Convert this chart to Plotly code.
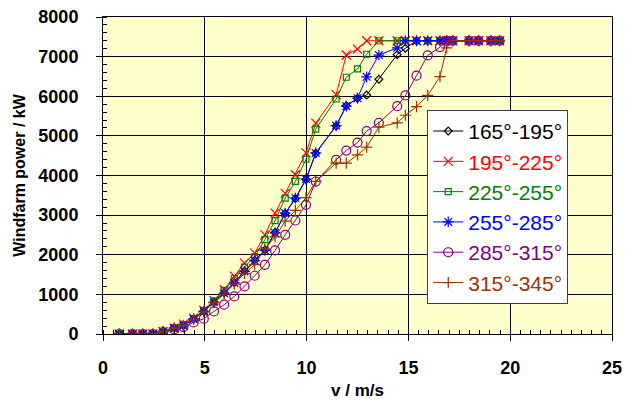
import plotly.graph_objects as go

# Wind speed bins (m/s)
v_bins = [0.8, 1.45, 1.95, 2.45, 2.95, 3.5, 3.95, 4.45, 4.95, 5.45, 5.95, 6.45,
          6.95, 7.45, 7.95, 8.45, 8.95, 9.45, 9.97, 10.45, 11.45, 11.95, 12.5, 12.95,
          13.55, 14.45, 14.85, 15.4, 15.95, 16.55, 16.88, 17.18, 17.98, 18.45, 19.05, 19.48]

# Windfarm power (kW) per wind-direction sector
p_165_195 = [0, 0, 0, 0, 60, 150, 215, 385, 575, 800, 1040, 1300,
             1590, 1860, 2120, 2560, 3040, 3420, 3900, 4560, 5250, 5760, 5950, 6030,
             6430, 7050, 7210, 7400, 7400, 7400, 7400, 7400, 7400, 7400, 7400, 7400]
p_195_225 = [0, 0, 0, 0, 60, 150, 250, 400, 600, 850, 1120, 1460,
             1790, 2040, 2500, 3050, 3550, 4020, 4570, 5320, 6040, 7040, 7190, 7400,
             7400, 7400, 7400, 7400, 7400, 7400, 7400, 7400, 7400, 7400, 7400, 7400]
p_225_255 = [0, 0, 0, 0, 60, 150, 240, 390, 590, 830, 1100, 1400,
             1690, 1950, 2380, 2860, 3430, 3850, 4410, 5170, 5930, 6480, 6690, 7060,
             7400, 7400, 7400, 7400, 7400, 7400, 7400, 7400, 7400, 7400, 7400, 7400]
p_255_285 = [0, 0, 0, 0, 60, 150, 210, 380, 570, 800, 1030, 1290,
             1580, 1850, 2110, 2550, 3050, 3430, 3910, 4570, 5260, 5750, 5950, 6490,
             7040, 7220, 7400, 7400, 7400, 7400, 7400, 7400, 7400, 7400, 7400, 7400]
p_285_315 = [0, 0, 0, 0, 50, 120, 176, 292, 386, 570, 739, 948,
             1200, 1470, 1747, 2108, 2504, 2864, 3260, 3848, 4395, 4630, 4831, 5120,
             5330, 5750, 6020, 6520, 7030, 7240, 7400, 7400, 7400, 7400, 7400, 7400]
p_315_345 = [0, 0, 0, 0, 60, 150, 220, 370, 560, 790, 1010, 1260,
             1530, 1750, 2150, 2450, 2850, 3120, 3440, 3850, 4311, 4311, 4520, 4715,
             5220, 5330, 5520, 5740, 6020, 6495, 7220, 7400, 7400, 7400, 7400, 7400]

sector_labels = ["165°-195°", "195°-225°", "225°-255°", "255°-285°", "285°-315°", "315°-345°"]
series = [p_165_195, p_195_225, p_225_255, p_255_285, p_285_315, p_315_345]

styles = [
    dict(color="#000000", symbol="diamond-open", size=6),
    dict(color="#FF0000", symbol="x-thin-open", size=9),
    dict(color="#008000", symbol="square-open", size=6),
    dict(color="#0000FF", symbol="asterisk-open", size=9),
    dict(color="#800080", symbol="circle-open", size=9),
    dict(color="#993300", symbol="cross-thin-open", size=8),
]

FONT = "Liberation Sans, Arial, sans-serif"

fig = go.Figure()
for lab, p, st in zip(sector_labels, series, styles):
    fig.add_trace(go.Scatter(
        x=v_bins, y=p, mode="lines+markers",
        name=f"<span style='color:{st['color']}'>{lab}</span>",
        line=dict(color=st["color"], width=1),
        marker=dict(symbol=st["symbol"], size=st["size"], color=st["color"],
                    line=dict(color=st["color"], width=1.2)),
    ))

fig.update_layout(
    width=631, height=400,
    margin=dict(l=103, r=19, t=17, b=66),
    paper_bgcolor="white",
    plot_bgcolor="#FFFFCC",
    font=dict(family=FONT, color="black"),
    showlegend=True,
    legend=dict(
        x=0.637, y=0.707, xanchor="left", yanchor="top",
        bgcolor="white", bordercolor="#404040", borderwidth=1,
        font=dict(family=FONT, size=21),
        itemwidth=30, tracegroupgap=0,
    ),
)

fig.update_xaxes(
    range=[0, 25], dtick=5, tick0=0, automargin=False,
    showgrid=True, gridcolor="#000000", gridwidth=1,
    showline=True, linecolor="#000000", linewidth=1, mirror=True,
    zeroline=False,
    ticks="outside", ticklen=6, tickcolor="#000000",
    minor=dict(dtick=0.5, ticks="inside", ticklen=4, tickcolor="#000000", showgrid=False),
    tickfont=dict(family=FONT, size=18, color="black", weight="bold"),
    ticklabelstandoff=11,
    title=dict(text="<b>v / m/s</b>", font=dict(family=FONT, size=17), standoff=10),
)
fig.update_yaxes(
    range=[0, 8000], dtick=1000, tick0=0, automargin=False,
    showgrid=True, gridcolor="#000000", gridwidth=1,
    showline=True, linecolor="#000000", linewidth=1, mirror=True,
    zeroline=False,
    ticks="outside", ticklen=6, tickcolor="#000000",
    minor=dict(dtick=200, ticks="inside", ticklen=4, tickcolor="#000000", showgrid=False),
    tickfont=dict(family=FONT, size=18, color="black", weight="bold"),
    ticklabelstandoff=14,
    title=dict(text="<b>Windfarm power / kW</b>", font=dict(family=FONT, size=16), standoff=8),
)

fig.write_html("out.html", config={"displayModeBar": False},
               post_script="document.body.style.margin='0';")
